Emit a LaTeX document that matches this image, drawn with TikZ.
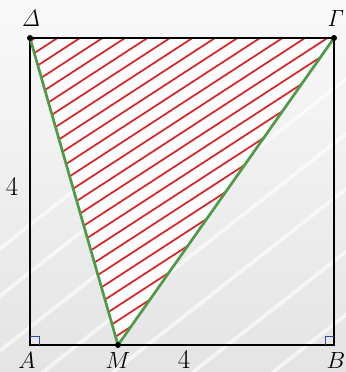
\documentclass[tikz,border=0pt]{standalone}
\usepackage{fix-cm}
\usepackage{xcolor}
\definecolor{hatchred}{HTML}{D7262B}
\definecolor{edgegreen}{HTML}{4E9A47}
\definecolor{markblue}{HTML}{2F4AA0}
\definecolor{bgtop}{HTML}{F9F9F9}
\definecolor{bgbottom}{HTML}{E4E4E4}

\begin{document}
\begin{tikzpicture}[x=0.03cm, y=-0.03cm, every node/.style={font=\fontsize{20}{23}\selectfont, inner sep=0pt}]

  \useasboundingbox (0,0) rectangle (346,372);
  \shade[top color=bgtop, bottom color=bgbottom] (0,0) rectangle (346,372);
  \foreach \o in {-160,-100,-30,40,110,190,270} {
    \fill[white, opacity=0.6] (\o,372) -- ++(420,-330) -- ++(6,0) -- ++(-420,330) -- cycle;
  }

  \coordinate (A) at (30,345);
  \coordinate (B) at (334,345);
  \coordinate (G) at (334,38);
  \coordinate (D) at (30,38);
  \coordinate (M) at (118,345);

  \begin{scope}
    \clip (D) -- (M) -- (G) -- cycle;
    \fill[white] (D) -- (M) -- (G) -- cycle;
    \foreach \k in {0,...,32} {
      \draw[hatchred, line width=1.5pt] ({35+22.5*\k},38) -- ++(-520,338);
    }
  \end{scope}

  \draw[black, line width=2.5pt] (A) -- (B) -- (G) -- (D) -- cycle;
  \draw[edgegreen, line width=2.3pt] (D) -- (M) -- (G);

  \draw[markblue, line width=0.7pt] (A) ++(9,0) -- ++(0,-9) -- ++(-9,0);
  \draw[markblue, line width=0.7pt] (B) ++(-9,0) -- ++(0,-9) -- ++(9,0);

  \fill (D) circle (3);
  \fill (G) circle (3);
  \fill (M) circle (3);

  \node (lblD) at (31,18) {$\mathit{\Delta}$};
  \node (lblG) at (336,18) {$\mathit{\Gamma}$};
  \node (lblA) at (27,360) {$A$};
  \node (lblM) at (118,360) {$M$};
  \node (lblB) at (336,360) {$B$};
  \node[font=\fontsize{23}{26}\selectfont] (lblAD) at (12,186) {4};
  \node[font=\fontsize{23}{26}\selectfont] (lblAB) at (184,359) {4};

\end{tikzpicture}
\end{document}
